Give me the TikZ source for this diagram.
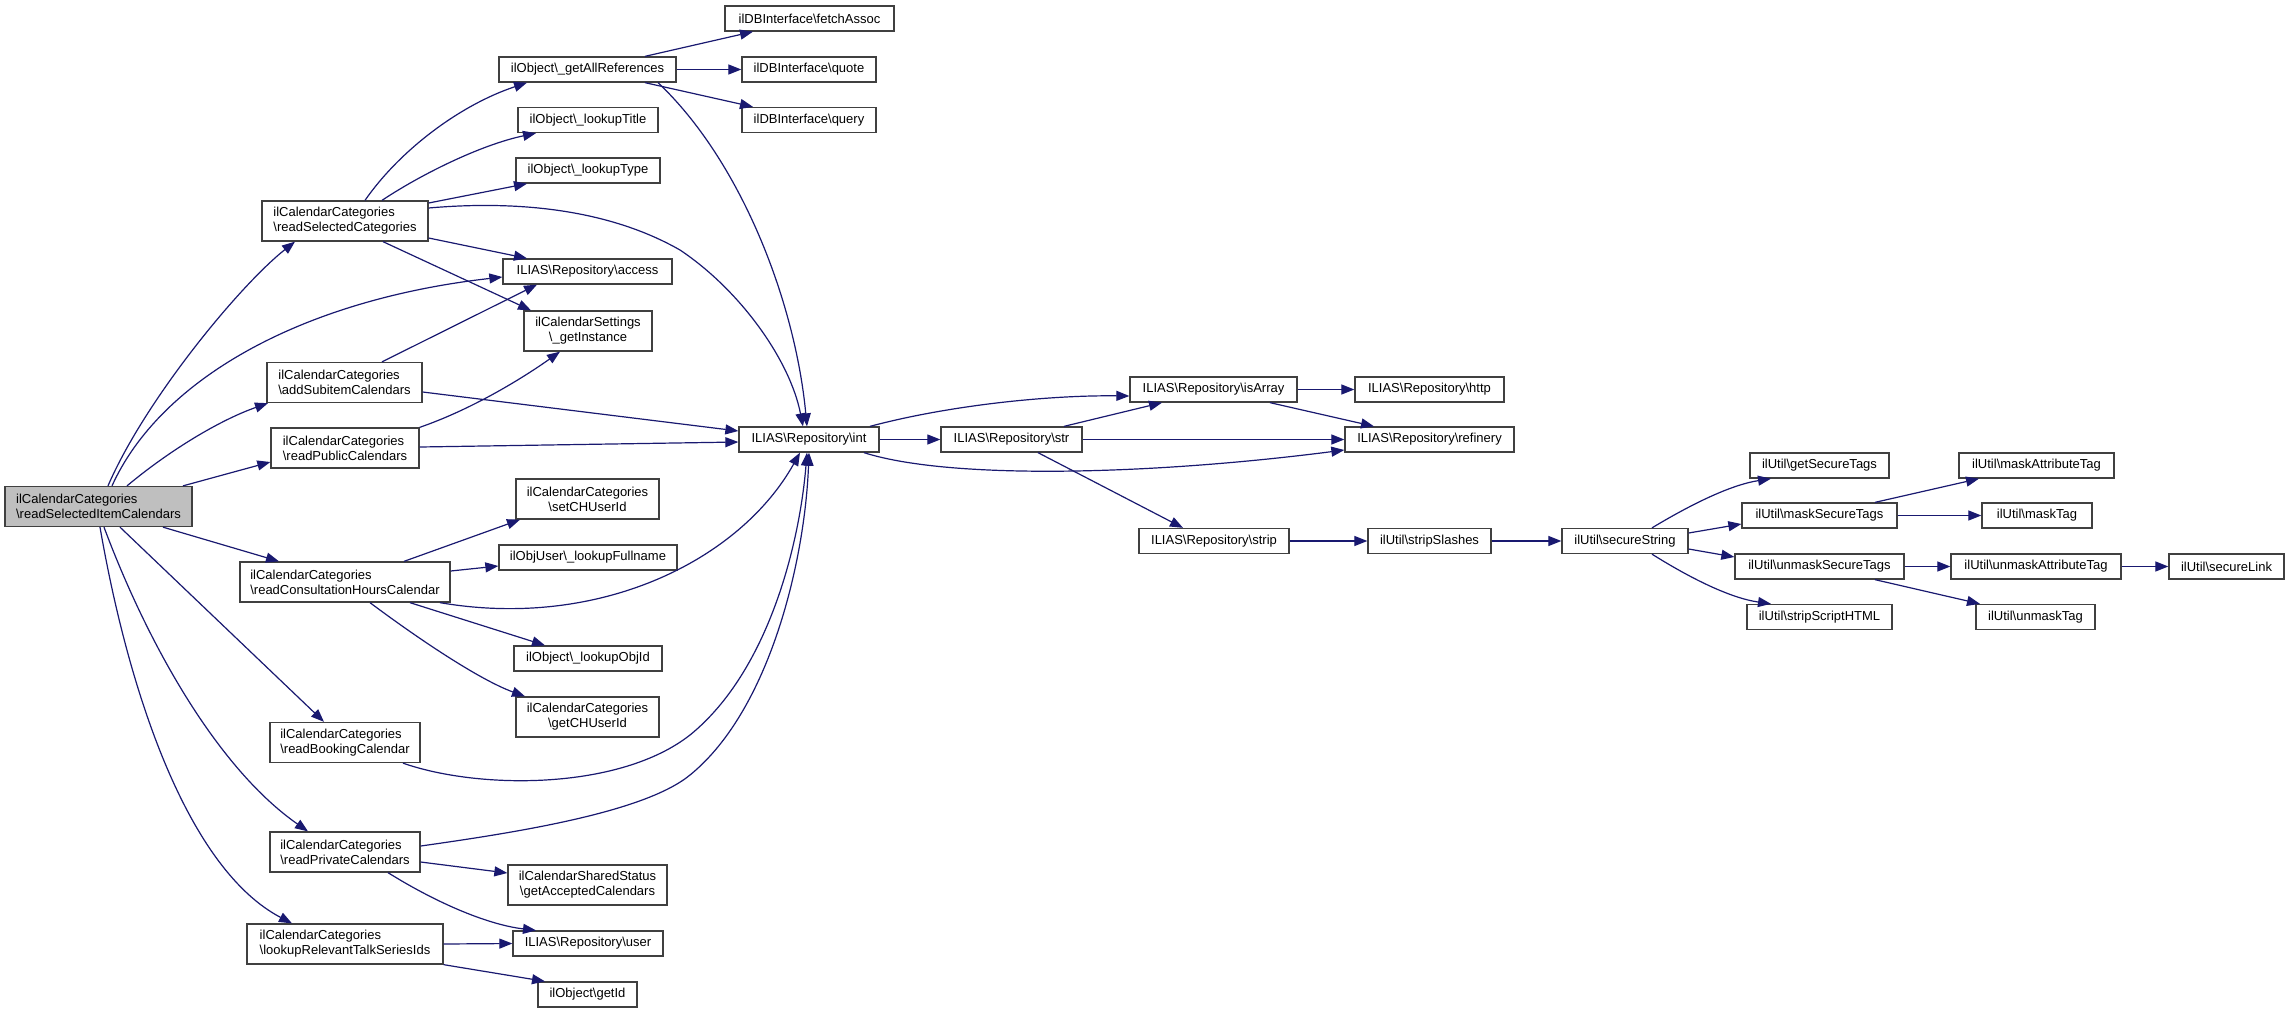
\documentclass[tikz,border=0pt]{standalone}
\usepackage{fontspec}
\setmainfont{Liberation Sans}
\usetikzlibrary{arrows.meta}
\definecolor{edgeblue}{HTML}{191970}
\definecolor{boxgray}{HTML}{BFBFBF}
\newcommand\BSL{\textbackslash}
\begin{document}
\begin{tikzpicture}[x=1pt,y=-1pt,
 fn/.style={draw=black!75, line width=1.3pt, fill=white, inner sep=0pt, minimum height=25pt, font=\fontsize{13}{15}\selectfont},
 fnl/.style={fn, minimum height=40pt, align=left},
 fnc/.style={fn, minimum height=40pt, align=center},
 e/.style={draw=edgeblue, line width=1.2pt, -{Triangle[length=13pt,width=10pt]}},
]
\useasboundingbox[fill=white] (0,0) rectangle (2289,1013);
% column 1
\node[fnl, minimum width=187pt, fill=boxgray] (main) at (98.5,506.5) {ilCalendarCategories\\\BSL readSelectedItemCalendars};
% column 2
\node[fnl, minimum width=166pt] (rsc) at (345,221) {ilCalendarCategories\\\BSL readSelectedCategories};
\node[fnl, minimum width=155pt] (asc) at (344.5,382.5) {ilCalendarCategories\\\BSL addSubitemCalendars};
\node[fnl, minimum width=148pt] (rpc) at (345,448) {ilCalendarCategories\\\BSL readPublicCalendars};
\node[fnl, minimum width=210pt] (rch) at (345,582) {ilCalendarCategories\\\BSL readConsultationHoursCalendar};
\node[fnl, minimum width=150pt] (rbc) at (345,742.5) {ilCalendarCategories\\\BSL readBookingCalendar};
\node[fnl, minimum width=150pt] (rpv) at (345,852) {ilCalendarCategories\\\BSL readPrivateCalendars};
\node[fnl, minimum width=196pt] (lrt) at (345,944) {ilCalendarCategories\\\BSL lookupRelevantTalkSeriesIds};
% column 3
\node[fn, minimum width=177pt] (gar) at (587.5,69.5) {ilObject\BSL\_getAllReferences};
\node[fn, minimum width=140pt] (ltt) at (588,120) {ilObject\BSL\_lookupTitle};
\node[fn, minimum width=144pt] (lty) at (588,170.5) {ilObject\BSL\_lookupType};
\node[fn, minimum width=169pt] (acc) at (587.5,271.5) {ILIAS\BSL Repository\BSL access};
\node[fnc, minimum width=128pt] (gin) at (588,331) {ilCalendarSettings\\\BSL\_getInstance};
\node[fnc, minimum width=143pt] (sch) at (587.5,499) {ilCalendarCategories\\\BSL setCHUserId};
\node[fn, minimum width=178pt] (lfn) at (588,557.5) {ilObjUser\BSL\_lookupFullname};
\node[fn, minimum width=148pt] (loi) at (588,658.5) {ilObject\BSL\_lookupObjId};
\node[fnc, minimum width=143pt] (gch) at (587.5,717) {ilCalendarCategories\\\BSL getCHUserId};
\node[fnc, minimum width=159pt] (gac) at (587.5,885) {ilCalendarSharedStatus\\\BSL getAcceptedCalendars};
\node[fn, minimum width=150pt] (usr) at (588,943.5) {ILIAS\BSL Repository\BSL user};
\node[fn, minimum width=99pt] (gid) at (587.5,994.5) {ilObject\BSL getId};
% column 4
\node[fn, minimum width=169pt] (fa) at (809.5,18.5) {ilDBInterface\BSL fetchAssoc};
\node[fn, minimum width=134pt] (qt) at (809,69.5) {ilDBInterface\BSL quote};
\node[fn, minimum width=134pt] (qr) at (809,120) {ilDBInterface\BSL query};
\node[fn, minimum width=140pt] (int) at (809,439.5) {ILIAS\BSL Repository\BSL int};
% column 5+
\node[fn, minimum width=141pt] (str) at (1011.5,439.5) {ILIAS\BSL Repository\BSL str};
\node[fn, minimum width=167pt] (isa) at (1213.5,389.5) {ILIAS\BSL Repository\BSL isArray};
\node[fn, minimum width=150pt] (stp) at (1214,541) {ILIAS\BSL Repository\BSL strip};
\node[fn, minimum width=149pt] (htp) at (1429.5,389.5) {ILIAS\BSL Repository\BSL http};
\node[fn, minimum width=169pt] (ref) at (1429.5,439.5) {ILIAS\BSL Repository\BSL refinery};
\node[fn, minimum width=123pt] (sts) at (1429.5,541) {ilUtil\BSL stripSlashes};
\node[fn, minimum width=126pt] (sss) at (1625,541) {ilUtil\BSL secureString};
\node[fn, minimum width=139pt] (gst) at (1819.5,465.5) {ilUtil\BSL getSecureTags};
\node[fn, minimum width=155pt] (mst) at (1819.5,515.5) {ilUtil\BSL maskSecureTags};
\node[fn, minimum width=169pt] (ust) at (1819.5,566.5) {ilUtil\BSL unmaskSecureTags};
\node[fn, minimum width=145pt] (ssh) at (1819.5,617) {ilUtil\BSL stripScriptHTML};
\node[fn, minimum width=155pt] (mat) at (2036.5,465.5) {ilUtil\BSL maskAttributeTag};
\node[fn, minimum width=110pt] (mtg) at (2037,515.5) {ilUtil\BSL maskTag};
\node[fn, minimum width=170pt] (uat) at (2036,566.5) {ilUtil\BSL unmaskAttributeTag};
\node[fn, minimum width=119pt] (utg) at (2035.5,617) {ilUtil\BSL unmaskTag};
\node[fn, minimum width=115pt] (slk) at (2226.5,566.5) {ilUtil\BSL secureLink};
% edges from main
\draw[e] (108,0 |- main.north) .. controls (145,400) and (240,285) .. (295,0 |- rsc.south);
\draw[e] (112,0 |- main.north) .. controls (160,380) and (300,300) .. (acc.west |- 0,277);
\draw[e] (127,0 |- main.north) .. controls (170,450) and (220,420) .. (268,0 |- asc.south);
\draw[e] (183,0 |- main.north) -- (rpc.west |- 0,462);
\draw[e] (163,0 |- main.south) -- (279,0 |- rch.north);
\draw[e] (120,0 |- main.south) -- (324,0 |- rbc.north);
\draw[e] (104,0 |- main.south) .. controls (150,650) and (220,770) .. (308,0 |- rpv.north);
\draw[e] (100,0 |- main.south) .. controls (130,700) and (190,870) .. (292,0 |- lrt.north);
% rsc
\draw[e] (365,0 |- rsc.north) .. controls (400,150) and (460,105) .. (527,0 |- gar.south);
\draw[e] (382,0 |- rsc.north) .. controls (420,175) and (480,145) .. (536,0 |- ltt.south);
\draw[e] (rsc.east |- 0,203) -- (527,0 |- lty.south);
\draw[e] (rsc.east |- 0,208) .. controls (520,200) and (610,210) .. (680,250) .. controls (740,290) and (790,360) .. (803,0 |- int.north);
\draw[e] (rsc.east |- 0,238) -- (527,0 |- acc.north);
\draw[e] (383,0 |- rsc.south) -- (531,0 |- gin.north);
% gar
\draw[e] (645,0 |- gar.north) -- (753,0 |- fa.south);
\draw[e] (gar.east) -- (qt.west);
\draw[e] (645,0 |- gar.south) -- (753,0 |- qr.north);
\draw[e] (658,0 |- gar.south) .. controls (740,160) and (795,300) .. (807,0 |- int.north);
% asc, rpc
\draw[e] (382,0 |- asc.north) -- (537,0 |- acc.south);
\draw[e] (asc.east |- 0,392) -- (int.west |- 0,431);
\draw[e] (rpc.east |- 0,447) -- (int.west |- 0,442);
\draw[e] (rpc.north east) .. controls (470,410) and (520,380) .. (560,0 |- gin.south);
% rch
\draw[e] (404,0 |- rch.north) -- (520,0 |- sch.south);
\draw[e] (rch.east |- 0,571) -- (lfn.west |- 0,566);
\draw[e] (440,0 |- rch.south) .. controls (600,630) and (740,560) .. (800,0 |- int.south);
\draw[e] (410,0 |- rch.south) -- (545,0 |- loi.north);
\draw[e] (370,0 |- rch.south) .. controls (420,640) and (480,680) .. (525,0 |- gch.north);
% rbc, rpv, lrt
\draw[e] (403,0 |- rbc.south) .. controls (480,790) and (620,790) .. (690,735) .. controls (770,670) and (800,540) .. (807,0 |- int.south);
\draw[e] (rpv.east |- 0,846) .. controls (520,832) and (645,812) .. (690,775) .. controls (770,710) and (805,560) .. (809,0 |- int.south);
\draw[e] (rpv.east |- 0,862) -- (gac.west |- 0,873);
\draw[e] (388,0 |- rpv.south) .. controls (440,905) and (490,925) .. (536,0 |- usr.north);
\draw[e] (lrt.east) -- (usr.west);
\draw[e] (lrt.south east) -- (545,0 |- gid.north);
% int, str, isa
\draw[e] (870,0 |- int.north) .. controls (950,405) and (1050,395) .. (isa.west |- 0,396);
\draw[e] (int.east) -- (str.west);
\draw[e] (864,0 |- int.south) .. controls (950,480) and (1150,475) .. (ref.west |- 0,450);
\draw[e] (1064,0 |- str.north) -- (1162,0 |- isa.south);
\draw[e] (str.east) -- (ref.west);
\draw[e] (1038,0 |- str.south) -- (1183,0 |- stp.north);
\draw[e] (isa.east) -- (htp.west);
\draw[e] (1270,0 |- isa.south) -- (1374,0 |- ref.north);
% ilUtil chain
\draw[e] (stp.east) -- (sts.west);
\draw[e] (sts.east) -- (sss.west);
\draw[e] (1652,0 |- sss.north) .. controls (1690,505) and (1730,485) .. (1771,0 |- gst.south);
\draw[e] (sss.east |- 0,533) -- (mst.west |- 0,524);
\draw[e] (sss.east |- 0,549) -- (ust.west |- 0,557);
\draw[e] (1652,0 |- sss.south) .. controls (1690,578) and (1730,598) .. (1771,0 |- ssh.north);
\draw[e] (1875,0 |- mst.north) -- (1979,0 |- mat.south);
\draw[e] (mst.east) -- (mtg.west);
\draw[e] (ust.east) -- (uat.west);
\draw[e] (1875,0 |- ust.south) -- (1980,0 |- utg.north);
\draw[e] (uat.east) -- (slk.west);
\end{tikzpicture}
\end{document}
